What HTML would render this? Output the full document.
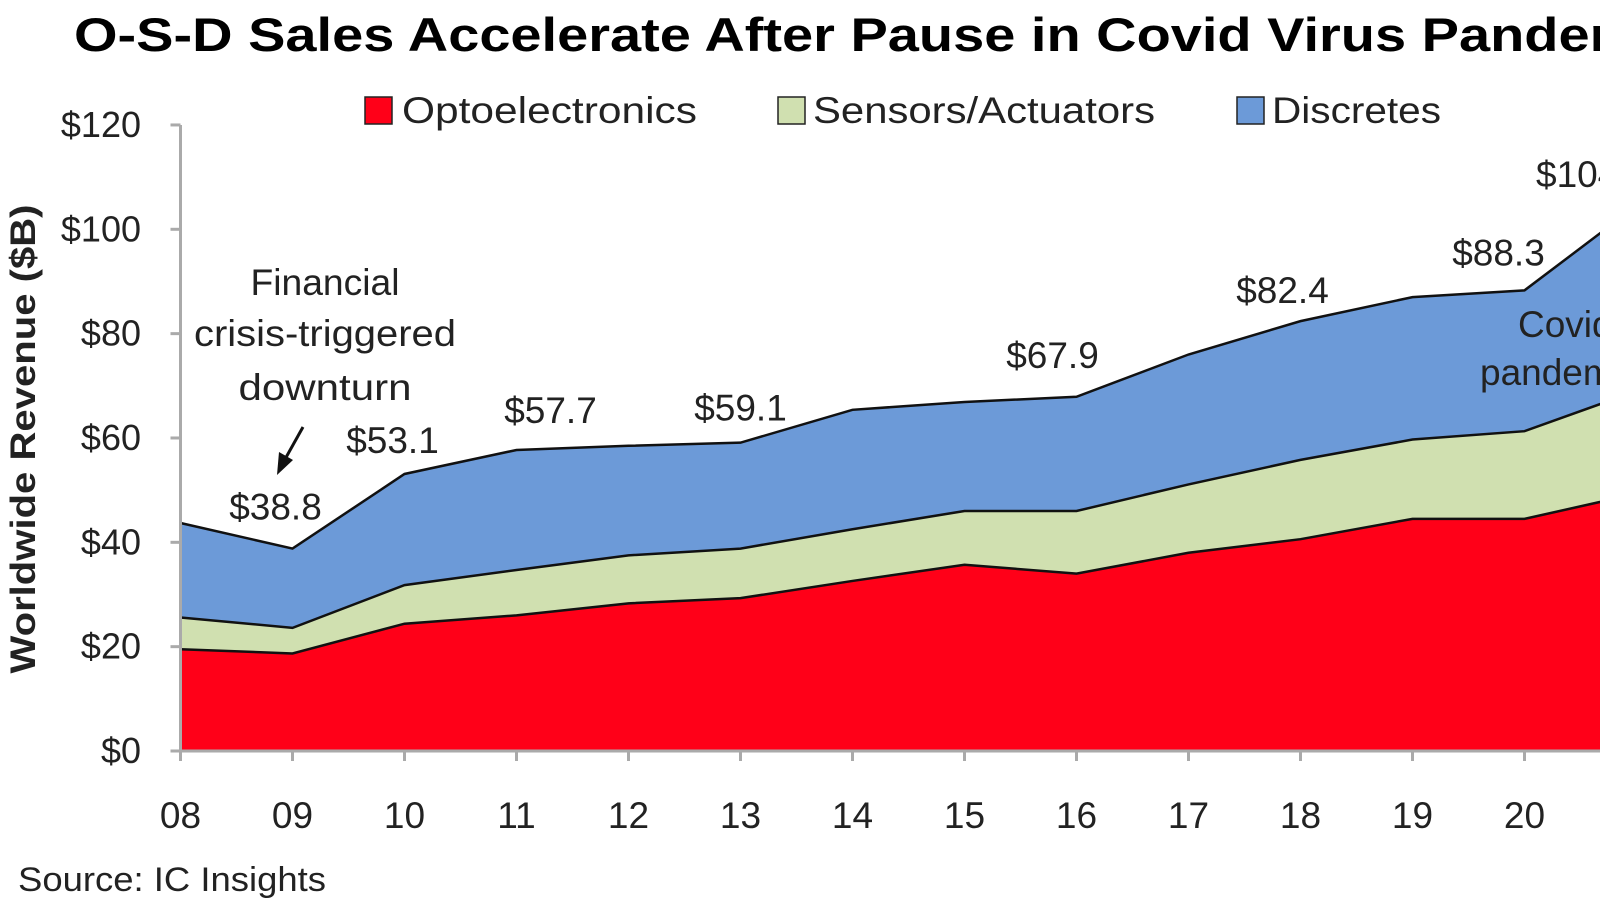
<!DOCTYPE html>
<html><head><meta charset="utf-8"><style>
html,body{margin:0;padding:0;background:#fff;width:1600px;height:900px;overflow:hidden}
svg{display:block;font-family:"Liberation Sans",sans-serif}
</style></head><body>
<svg id="chart" width="1600" height="900" viewBox="0 0 1600 900">
<text x="74" y="51" font-size="47" font-weight="bold" fill="#000" textLength="1612" lengthAdjust="spacingAndGlyphs">O-S-D Sales Accelerate After Pause in Covid Virus Pandemic</text>
<g font-size="37" fill="#222">
<g><rect x="365" y="97" width="27" height="27" fill="#ff0018" stroke="#222" stroke-width="1.5"/><text x="402" y="123" textLength="295" lengthAdjust="spacingAndGlyphs">Optoelectronics</text></g>
<g><rect x="778" y="97" width="27" height="27" fill="#d0e0b0" stroke="#222" stroke-width="1.5"/><text x="813" y="123" textLength="342" lengthAdjust="spacingAndGlyphs">Sensors/Actuators</text></g>
<g><rect x="1237" y="97" width="27" height="27" fill="#6c9ad8" stroke="#222" stroke-width="1.5"/><text x="1272" y="123" textLength="169" lengthAdjust="spacingAndGlyphs">Discretes</text></g>
</g>
<g id="areas"></g>
<g id="axes"></g>
<text transform="translate(35,439) rotate(-90)" text-anchor="middle" font-size="35" font-weight="bold" fill="#222" textLength="469" lengthAdjust="spacingAndGlyphs">Worldwide Revenue ($B)</text>
<g font-size="37" fill="#222">
<text x="325" y="295" text-anchor="middle" textLength="149" lengthAdjust="spacingAndGlyphs">Financial</text>
<text x="325" y="346" text-anchor="middle" textLength="262" lengthAdjust="spacingAndGlyphs">crisis-triggered</text>
<text x="325" y="400" text-anchor="middle" textLength="173" lengthAdjust="spacingAndGlyphs">downturn</text>
<line x1="303" y1="427" x2="284" y2="461" stroke="#111" stroke-width="3"/>
<polygon points="277,475 279,452 293,460" fill="#111"/>
<text x="1518" y="337">Covid-19</text>
<text x="1480" y="385">pandemic</text>
<text x="1536" y="187">$104.5</text>
</g>
<text x="18" y="891" font-size="34" fill="#222" textLength="308" lengthAdjust="spacingAndGlyphs">Source: IC Insights</text>
</svg>
<script>
const years = ["08","09","10","11","12","13","14","15","16","17","18","19","20","21"];
const opto = [19.5,18.7,24.4,26.0,28.3,29.3,32.6,35.7,34.0,38.0,40.6,44.5,44.5,49.3];
const sensors = [6.1,4.9,7.4,8.7,9.2,9.5,9.9,10.3,12.0,13.1,15.2,15.2,16.8,19.7];
const discretes = [18.1,15.2,21.3,23.0,21.0,20.3,22.9,20.9,21.9,24.9,26.6,27.3,27.0,35.5];
const totalLabels = ["","$38.8","$53.1","$57.7","","$59.1","","","$67.9","","$82.4","","$88.3",""];
const labelDx = [0,-17,-12,34,0,0,0,0,-24,0,-18,0,-26,0];
const labelDy = [0,41,33,39,0,34,0,0,41,0,30,0,37,0];
const yTicks = [0,20,40,60,80,100,120];

const NS="http://www.w3.org/2000/svg";
const x0=180.5, step=112, yBase=751, yScale=5.217;
const X=i=>x0+i*step;
const Y=v=>yBase-v*yScale;
function mk(tag,attrs,parent){const e=document.createElementNS(NS,tag);for(const k in attrs)e.setAttribute(k,attrs[k]);parent.appendChild(e);return e;}
const areas=document.getElementById('areas'), axes=document.getElementById('axes'), svg=document.getElementById('chart');
const c1=opto.map(v=>v);
const c2=opto.map((v,i)=>v+sensors[i]);
const c3=c2.map((v,i)=>v+discretes[i]);
function band(lo,hi,fill,name){
  let d='M'+X(0)+','+Y(hi[0]);
  for(let i=1;i<hi.length;i++)d+=' L'+X(i)+','+Y(hi[i]);
  for(let i=lo.length-1;i>=0;i--)d+=' L'+X(i)+','+Y(lo[i]);
  d+=' Z';
  const p=mk('path',{d:d,fill:fill},areas);
  
  
  let l='M'+X(0)+','+Y(hi[0]);
  for(let i=1;i<hi.length;i++)l+=' L'+X(i)+','+Y(hi[i]);
  mk('path',{d:l,fill:'none',stroke:'#111','stroke-width':2.5},areas);
}
const zero=years.map(()=>0);
band(c2,c3,'#6c9ad8','area-discretes');
band(c1,c2,'#d0e0b0','area-sensors');
band(zero,c1,'#ff0018','area-optoelectronics');
mk('line',{x1:x0,y1:Y(0),x2:x0,y2:Y(120),stroke:'#aaa','stroke-width':3},axes);
mk('line',{x1:x0,y1:Y(0),x2:1600,y2:Y(0),stroke:'#aaa','stroke-width':3},axes);
yTicks.forEach(v=>{
  mk('line',{x1:x0-10,y1:Y(v),x2:x0,y2:Y(v),stroke:'#aaa','stroke-width':3},axes);
  const t=mk('text',{x:141,y:Y(v)+12,'text-anchor':'end','font-size':36,fill:'#222'},axes);
  
  
  t.textContent='$'+v;
});
years.forEach((yr,i)=>{
  mk('line',{x1:X(i),y1:Y(0),x2:X(i),y2:Y(0)+10,stroke:'#aaa','stroke-width':3},axes);
  const t=mk('text',{x:X(i),y:828,'text-anchor':'middle','font-size':37,fill:'#222'},axes);
  
  
  t.textContent=yr;
  if(totalLabels[i]){
    const lbl=mk('text',{x:X(i)+labelDx[i],y:Y(c3[i])-labelDy[i]+12,'text-anchor':'middle','font-size':37,fill:'#222'},svg);
    
    
    lbl.textContent=totalLabels[i];
  }
});
</script>
</body></html>
